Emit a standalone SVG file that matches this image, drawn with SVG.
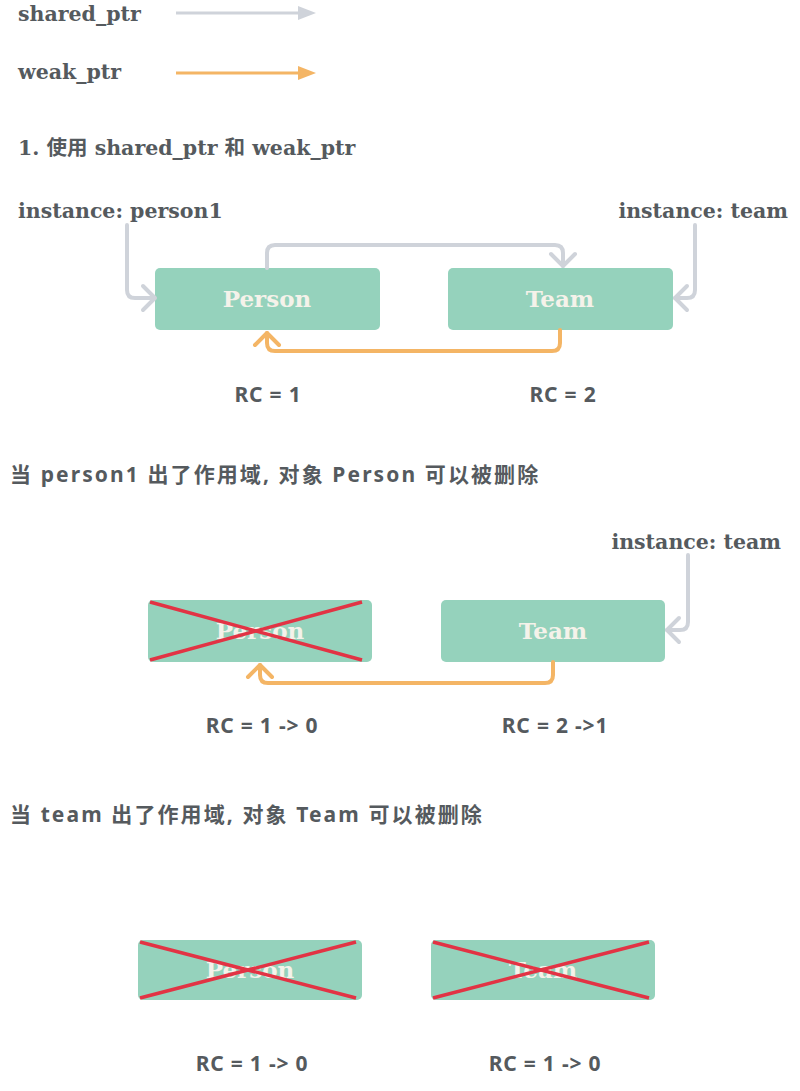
<svg xmlns="http://www.w3.org/2000/svg" width="800" height="1091" viewBox="0 0 800 1091">
<defs>
<style>
.t{font-family:"DejaVu Serif","Noto Sans CJK SC",serif;font-weight:bold;font-size:20.5px;fill:#555a5e}
.s{font-family:"Noto Sans","Noto Sans CJK SC",sans-serif;font-weight:bold;font-size:21px;letter-spacing:2.1px;fill:#555a5e}
.c{font-family:"Noto Sans","Noto Sans CJK SC",sans-serif;font-weight:bold;font-size:21px;letter-spacing:0.8px;fill:#555a5e;text-anchor:middle}
.box{fill:#95d2bc}
.bt{font-family:"DejaVu Serif",serif;font-weight:bold;font-size:23px;fill:#f5f2ea;text-anchor:middle}
.g{fill:none;stroke:#cfd3da;stroke-width:4;stroke-linejoin:round;stroke-linecap:round}
.o{fill:none;stroke:#f4b565;stroke-width:4;stroke-linejoin:round;stroke-linecap:round}
.x{stroke:#e23344;stroke-width:3.5}
</style>
</defs>
<text class="t" x="18" y="21">shared_ptr</text>
<text class="t" x="18" y="79">weak_ptr</text>
<g id="legend">
<line x1="176" y1="13" x2="300" y2="13" stroke="#cfd3da" stroke-width="3"/>
<polygon points="298,6 316,13 298,20" fill="#cfd3da"/>
<line x1="176" y1="73" x2="300" y2="73" stroke="#f4b565" stroke-width="3"/>
<polygon points="298,66 316,73 298,80" fill="#f4b565"/>
</g>
<text class="t" x="18" y="155">1. 使用 shared_ptr 和 weak_ptr</text>
<text class="t" x="18" y="218">instance: person1</text>
<text class="t" x="788" y="218" text-anchor="end">instance: team</text>
<g id="person1"><rect class="box" x="155" y="268" width="225" height="62" rx="5"/><text class="bt" x="267" y="307">Person</text></g>
<g id="team1"><rect class="box" x="448" y="268" width="225" height="62" rx="5"/><text class="bt" x="560" y="307">Team</text></g>
<g id="connectors1">
<path class="g" d="M127,225 V290 q0,8 8,8 H153"/><path class="g" d="M143,286 L155,298 L143,310"/>
<path class="g" d="M267,268 V253 q0,-8 8,-8 H555 q8,0 8,8 V266"/><path class="g" d="M551,254 L563,266 L575,254"/>
<path class="g" d="M695,225 V290 q0,8 -8,8 H675"/><path class="g" d="M687,286 L675,298 L687,310"/>
<path class="o" d="M560,330 V343 q0,8 -8,8 H275 q-8,0 -8,-8 V333"/><path class="o" d="M255,345 L267,333 L279,345"/>
</g>
<text class="c" x="268" y="402">RC = 1</text>
<text class="c" x="563" y="402">RC = 2</text>
<text class="s" x="10" y="482">当 person1 出了作用域, 对象 Person 可以被删除</text>
<text class="t" x="781" y="549" text-anchor="end">instance: team</text>
<g id="person2"><rect class="box" x="148" y="600" width="224" height="62" rx="5"/><text class="bt" x="260" y="639">Person</text>
<line class="x" x1="150" y1="602" x2="362" y2="660"/><line class="x" x1="150" y1="660" x2="362" y2="602"/></g>
<g id="team2"><rect class="box" x="441" y="600" width="224" height="62" rx="5"/><text class="bt" x="553" y="639">Team</text></g>
<g id="connectors2">
<path class="g" d="M688,555 V622 q0,8 -8,8 H667"/><path class="g" d="M679,618 L667,630 L679,642"/>
<path class="o" d="M553,662 V675 q0,8 -8,8 H268 q-8,0 -8,-8 V665"/><path class="o" d="M248,677 L260,665 L272,677"/>
</g>
<text class="c" x="262" y="733">RC = 1 -&gt; 0</text>
<text class="c" x="555" y="733">RC = 2 -&gt;1</text>
<text class="s" x="10" y="822">当 team 出了作用域, 对象 Team 可以被删除</text>
<g id="person3"><rect class="box" x="138" y="940" width="224" height="60" rx="5"/><text class="bt" x="250" y="978">Person</text>
<line class="x" x1="140" y1="942" x2="356" y2="998"/><line class="x" x1="140" y1="998" x2="356" y2="942"/></g>
<g id="team3"><rect class="box" x="431" y="940" width="224" height="60" rx="5"/><text class="bt" x="543" y="978">Team</text>
<line class="x" x1="433" y1="942" x2="649" y2="998"/><line class="x" x1="433" y1="998" x2="649" y2="942"/></g>
<text class="c" x="252" y="1071">RC = 1 -&gt; 0</text>
<text class="c" x="545" y="1071">RC = 1 -&gt; 0</text>
</svg>
